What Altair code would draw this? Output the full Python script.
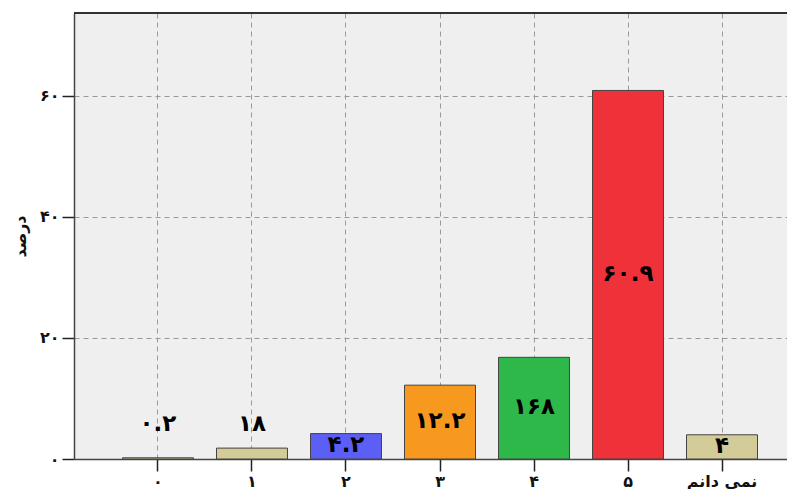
import altair as alt
import pandas as pd

categories = ["۰", "۱", "۲", "۳", "۴", "۵", "نمی دانم"]
values = [0.2, 1.8, 4.2, 12.2, 16.8, 60.9, 4.0]
value_labels = ["۰.۲", "۱۸", "۴.۲", "۱۲.۲", "۱۶۸", "۶۰.۹", "۴"]
bar_colors = ["#d4cc98", "#d4cc98", "#5b5ff5", "#f8991f", "#2eb84a", "#ef3139", "#d4cc98"]
y_ticks = [0, 20, 40, 60]
y_tick_labels = ["۰", "۲۰", "۴۰", "۶۰"]
y_title = "درصد"

df = pd.DataFrame({"cat": categories, "value": values, "label": value_labels})

label_expr = "".join(
    f"datum.value == {v} ? '{t}' : " for v, t in zip(y_ticks, y_tick_labels)
) + "''"

FONT = "DejaVu Sans"
W = 713
H = 446

x_enc = alt.X(
    "cat:N",
    sort=categories,
    scale=alt.Scale(range=[0, 732], paddingInner=0.245, paddingOuter=0.516),
    axis=alt.Axis(
        title=None,
        labelAngle=0,
        labelFont=FONT,
        labelFontSize=16,
        labelFontWeight="bold",
        labelColor="#111",
        labelPadding=2,
        tickSize=12,
        tickColor="#222",
        tickWidth=1.5,
        domainColor="#444",
        domainWidth=1.5,
        grid=True,
        gridDash=[5, 4],
        gridColor="#999",
        gridWidth=1,
    ),
)

y_scale = alt.Scale(domain=[0, 73.7], nice=False, zero=True)

bars = alt.Chart(df).mark_bar(stroke="#444", strokeWidth=1).encode(
    x=x_enc,
    y=alt.Y(
        "value:Q",
        scale=y_scale,
        axis=alt.Axis(
            title=y_title,
            titleFont=FONT,
            titleFontSize=16,
            titleFontWeight="bold",
            titleColor="#111",
            titleX=-54,
            titleY=223,
            titleAlign="center",
            titleBaseline="middle",
            values=y_ticks,
            labelExpr=label_expr,
            labelFont=FONT,
            labelFontSize=16,
            labelFontWeight="bold",
            labelColor="#111",
            labelPadding=3,
            tickSize=12,
            tickColor="#222",
            tickWidth=1.5,
            domainColor="#444",
            domainWidth=1.5,
            grid=True,
            gridDash=[5, 4],
            gridColor="#999",
            gridWidth=1,
        ),
    ),
    color=alt.Color("cat:N", scale=alt.Scale(domain=categories, range=bar_colors), legend=None),
)

texts = alt.Chart(df).transform_calculate(
    pos="datum.value >= 3 ? datum.value / 2 : 5.6"
).mark_text(
    font=FONT, fontSize=23, fontWeight="bold", color="#000", baseline="middle", dy=-1
).encode(
    x=alt.X("cat:N", sort=categories),
    y=alt.Y("pos:Q", scale=y_scale),
    text="label:N",
)

top_border = alt.Chart(df).mark_rule(color="#333", strokeWidth=1.5).encode(
    x=alt.value(0), x2=alt.value(W + 10), y=alt.value(0)
)

chart = (
    alt.layer(bars, texts, top_border)
    .properties(
        width=W,
        height=H,
        autosize=alt.AutoSizeParams(type="none"),
        padding={"left": 66, "top": 5, "right": 0, "bottom": 30},
        background="white",
    )
    .configure_view(fill="#efefef", stroke=None)
)

chart.save("out.html", embed_options={"renderer": "svg", "actions": False})
